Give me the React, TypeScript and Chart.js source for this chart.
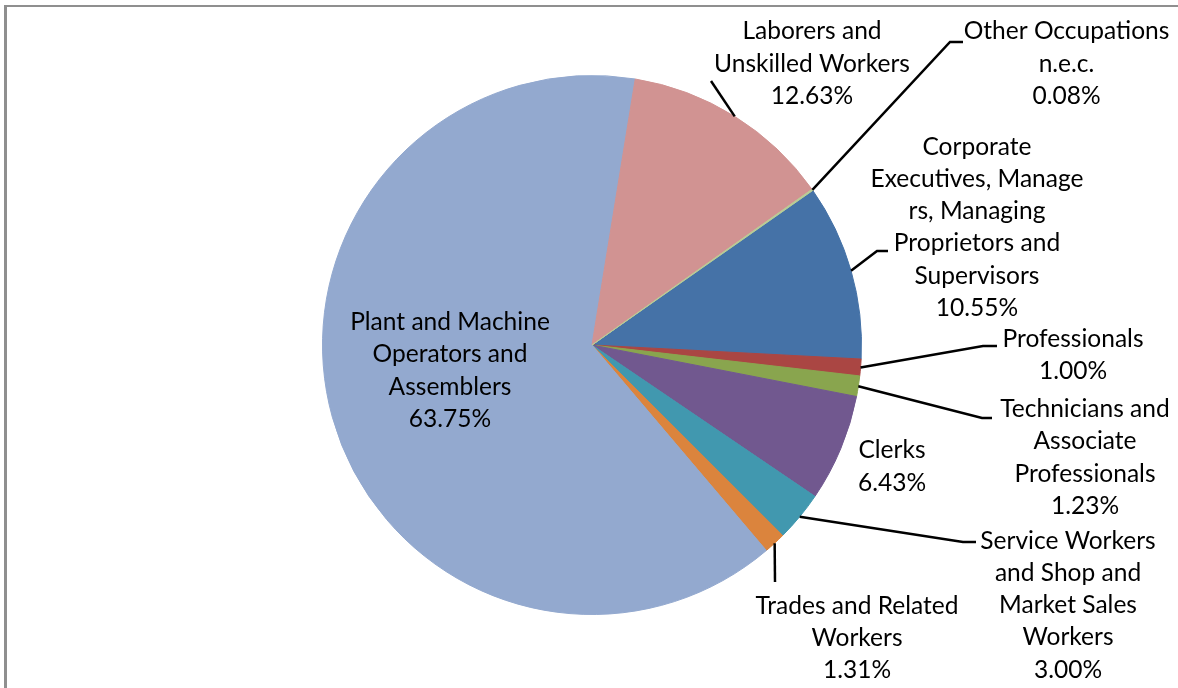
import React, { useEffect, useRef } from "react";
import { Chart, registerables } from "chart.js";

Chart.register(...registerables);

// ---- data ----
const categories = [
  "Corporate Executives, Managers, Managing Proprietors and Supervisors",
  "Professionals",
  "Technicians and Associate Professionals",
  "Clerks",
  "Service Workers and Shop and Market Sales Workers",
  "Trades and Related Workers",
  "Plant and Machine Operators and Assemblers",
  "Laborers and Unskilled Workers",
  "Other Occupations n.e.c.",
];
const shares = [10.55, 1.0, 1.23, 6.43, 3.0, 1.31, 63.75, 12.63, 0.08];
const labelLines = [
  ["Corporate", "Executives, Manage", "rs, Managing", "Proprietors and", "Supervisors"],
  ["Professionals"],
  ["Technicians and", "Associate", "Professionals"],
  ["Clerks"],
  ["Service Workers", "and Shop and", "Market Sales", "Workers"],
  ["Trades and Related", "Workers"],
  ["Plant and Machine", "Operators and", "Assemblers"],
  ["Laborers and", "Unskilled Workers"],
  ["Other Occupations", "n.e.c."],
];

// ---- styles / layout ----
const colors = ["#4572A7", "#AA4643", "#89A54E", "#71588F", "#4198AF", "#DB843D", "#93A9CF", "#D19392", "#B9CD96"];
// label block: centre x, first baseline y
const labelPos: [number, number][] = [
  [977, 154.5],
  [1073, 346.7],
  [1085, 417],
  [892, 458.3],
  [1068, 548.5],
  [857, 613.5],
  [450, 330],
  [812, 39.3],
  [1066.5, 39.3],
];
// leader line points after the slice edge (null = no leader)
const leaders: ([number, number][] | null)[] = [
  [[877, 251], [888, 251]],
  [[983, 346], [997, 346]],
  [[982, 418], [992, 418]],
  null,
  [[963, 542], [976, 542]],
  [[775, 582]],
  null,
  [[711, 81]],
  [[950, 42], [963, 42]],
];
const LINE_H = 32.3;
const FONT = "Lato, 'Open Sans', sans-serif";

const labelPlugin = {
  id: "excelLabels",
  beforeDraw(chart: any) {
    const ctx = chart.ctx;
    ctx.save();
    ctx.fillStyle = "#ffffff";
    ctx.fillRect(0, 0, chart.width, chart.height);
    ctx.fillStyle = "#8f8f8f";
    ctx.fillRect(4, 5, 3, chart.height);
    ctx.fillRect(4, 5, chart.width, 2);
    ctx.restore();
  },
  afterDatasetsDraw(chart: any) {
    const ctx = chart.ctx;
    const meta = chart.getDatasetMeta(0);
    ctx.save();
    // fit font size to the reference widths
    ctx.font = `100px ${FONT}`;
    const refs: [string, number][] = [
      ["Executives, Manage", 213],
      ["Trades and Related", 205],
      ["Service Workers", 173],
      ["Plant and Machine", 201],
    ];
    let s = 0;
    refs.forEach(([t, w]) => (s += (w / ctx.measureText(t).width) * 100));
    const size = s / refs.length;

    // leader lines
    ctx.strokeStyle = "#000000";
    ctx.lineWidth = 2.5;
    ctx.lineJoin = "miter";
    meta.data.forEach((arc: any, i: number) => {
      const pts = leaders[i];
      if (!pts) return;
      const p = arc.getProps(["x", "y", "startAngle", "endAngle", "outerRadius"], true);
      const mid = (p.startAngle + p.endAngle) / 2;
      ctx.beginPath();
      ctx.moveTo(p.x + Math.cos(mid) * p.outerRadius, p.y + Math.sin(mid) * p.outerRadius);
      pts.forEach(([x, y]) => ctx.lineTo(x, y));
      ctx.stroke();
    });

    // text
    ctx.font = `${size}px ${FONT}`;
    ctx.fillStyle = "#000000";
    ctx.textAlign = "center";
    ctx.textBaseline = "alphabetic";
    categories.forEach((_, i) => {
      const lines = [...labelLines[i], shares[i].toFixed(2) + "%"];
      const [cx, y0] = labelPos[i];
      lines.forEach((ln, k) => ctx.fillText(ln, cx, y0 + k * LINE_H));
    });
    ctx.restore();
  },
};

export default function App() {
  const ref = useRef<HTMLCanvasElement | null>(null);
  useEffect(() => {
    if (!ref.current) return;
    const chart = new Chart(ref.current, {
      type: "pie",
      data: {
        labels: categories,
        datasets: [
          {
            data: shares,
            backgroundColor: colors,
            borderColor: colors,
            borderWidth: 1,
          },
        ],
      },
      options: {
        responsive: false,
        animation: false,
        rotation: 55,
        layout: { padding: { left: 322, right: 316, top: 75, bottom: 73 } },
        plugins: { legend: { display: false }, tooltip: { enabled: false } },
        events: [],
      },
      plugins: [labelPlugin],
    });
    return () => chart.destroy();
  }, []);
  return (
    <div style={{ position: "fixed", left: 0, top: 0, width: 1178, height: 688, background: "#fff" }}>
      <canvas ref={ref} width={1178} height={688} style={{ display: "block" }} />
    </div>
  );
}
